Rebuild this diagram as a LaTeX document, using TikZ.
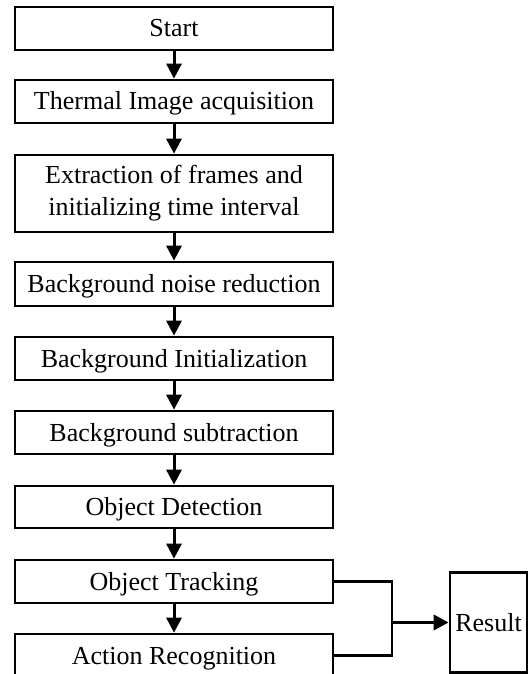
\documentclass[tikz,border=0pt]{standalone}
\usepackage{fontspec}
\setmainfont{Liberation Serif}
\usetikzlibrary{arrows.meta}
\begin{document}
\begin{tikzpicture}[x=1pt,y=-1pt,
  box font/.style={font=\fontsize{26}{32}\selectfont},
  one line/.style={text height=17pt, text depth=0pt},
  stepbox/.style={draw, line width=2.7pt, minimum width=318pt, inner sep=0pt,
    align=center, box font},
  flow/.style={line width=3pt, -{Triangle[length=15pt,width=15pt]}},
  link/.style={line width=2.7pt}]
\useasboundingbox (0,0) rectangle (529,674);
% main chain of processing steps
\node[stepbox, one line, minimum height=43pt] (b1) at (174,28.5) {Start};
\node[stepbox, one line, minimum height=43pt] (b2) at (174,101.5) {Thermal Image acquisition};
\node[stepbox, minimum height=77pt] (b3) at (174,193.5) {Extraction of frames and\\initializing time interval};
\node[stepbox, one line, minimum height=44pt] (b4) at (174,284) {Background noise reduction};
\node[stepbox, one line, minimum height=43pt] (b5) at (174,358.5) {Background Initialization};
\node[stepbox, one line, minimum height=43pt] (b6) at (174,432.5) {Background subtraction};
\node[stepbox, one line, minimum height=42pt] (b7) at (174,507) {Object Detection};
\node[stepbox, one line, minimum height=43pt] (b8) at (174,581.5) {Object Tracking};
\node[stepbox, one line, minimum height=43pt] (b9) at (174,655.5) {Action Recognition};
% output box
\node[draw, line width=2.7pt, minimum width=77pt, minimum height=100pt, inner sep=0pt,
  box font, one line] (res) at (488.5,622.5) {Result};
% arrows between steps
\draw[flow] (b1) -- (b2);
\draw[flow] (b2) -- (b3);
\draw[flow] (b3) -- (b4);
\draw[flow] (b4) -- (b5);
\draw[flow] (b5) -- (b6);
\draw[flow] (b6) -- (b7);
\draw[flow] (b7) -- (b8);
\draw[flow] (b8) -- (b9);
% tracking and recognition merge into the result
\coordinate (j) at (392,622.5);
\draw[link] (b8.east) -| (j) |- (b9.east);
\draw[flow, line width=3.6pt] (j) -- (res.west);
\end{tikzpicture}
\end{document}
